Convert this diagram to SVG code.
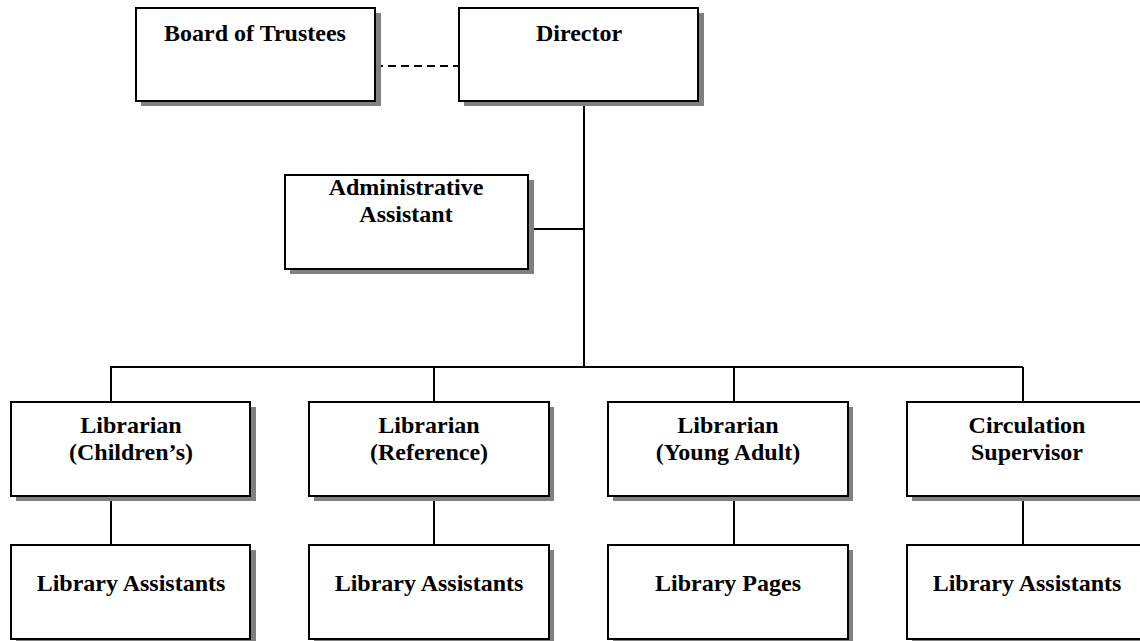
<svg xmlns="http://www.w3.org/2000/svg" width="1140" height="641" viewBox="0 0 1140 641">
<style>
.sh{fill:#808080}
.bx{fill:#fff;stroke:#000;stroke-width:2}
.t{font-family:"Liberation Serif","Times New Roman",serif;font-weight:bold;font-size:24px;text-anchor:middle;fill:#000}
.c{stroke:#000;stroke-width:2;fill:none}
</style>
<rect width="1140" height="641" fill="#fff"/>
<g id="connectors">
<line class="c" x1="375" y1="66" x2="459" y2="66" stroke-dasharray="8,5"/>
<line class="c" x1="584" y1="101" x2="584" y2="368"/>
<line class="c" x1="528" y1="229" x2="584" y2="229"/>
<line class="c" x1="110" y1="367" x2="1023" y2="367"/>
<line class="c" x1="111" y1="367" x2="111" y2="402"/>
<line class="c" x1="434" y1="367" x2="434" y2="402"/>
<line class="c" x1="734" y1="367" x2="734" y2="402"/>
<line class="c" x1="1023" y1="367" x2="1023" y2="402"/>
<line class="c" x1="111" y1="496" x2="111" y2="545"/>
<line class="c" x1="434" y1="496" x2="434" y2="545"/>
<line class="c" x1="734" y1="496" x2="734" y2="545"/>
<line class="c" x1="1023" y1="496" x2="1023" y2="545"/>
</g>
<g id="board">
<rect class="sh" x="141" y="13" width="240" height="93"/>
<rect class="bx" x="136" y="8" width="239" height="93"/>
<text class="t" x="255" y="41">Board of Trustees</text>
</g>
<g id="director">
<rect class="sh" x="464" y="13" width="240" height="93"/>
<rect class="bx" x="459" y="8" width="239" height="93"/>
<text class="t" x="579" y="41">Director</text>
</g>
<g id="admin">
<rect class="sh" x="290" y="180" width="244" height="94"/>
<rect class="bx" x="285" y="175" width="243" height="94"/>
<text class="t" x="406" y="195"><tspan x="406">Administrative</tspan><tspan x="406" dy="27">Assistant</tspan></text>
</g>
<g id="lib-children">
<rect class="sh" x="16" y="407" width="240" height="94"/>
<rect class="bx" x="11" y="402" width="239" height="94"/>
<text class="t" x="131" y="433"><tspan x="131">Librarian</tspan><tspan x="131" dy="27">(Children’s)</tspan></text>
</g>
<g id="lib-reference">
<rect class="sh" x="314" y="407" width="240" height="94"/>
<rect class="bx" x="309" y="402" width="240" height="94"/>
<text class="t" x="429" y="433"><tspan x="429">Librarian</tspan><tspan x="429" dy="27">(Reference)</tspan></text>
</g>
<g id="lib-youngadult">
<rect class="sh" x="613" y="407" width="240" height="94"/>
<rect class="bx" x="608" y="402" width="240" height="94"/>
<text class="t" x="728" y="433"><tspan x="728">Librarian</tspan><tspan x="728" dy="27">(Young Adult)</tspan></text>
</g>
<g id="circulation">
<rect class="sh" x="912" y="407" width="240" height="94"/>
<rect class="bx" x="907" y="402" width="240" height="94"/>
<text class="t" x="1027" y="433"><tspan x="1027">Circulation</tspan><tspan x="1027" dy="27">Supervisor</tspan></text>
</g>
<g id="assist-children">
<rect class="sh" x="16" y="550" width="240" height="94"/>
<rect class="bx" x="11" y="545" width="239" height="94"/>
<text class="t" x="131" y="591">Library Assistants</text>
</g>
<g id="assist-reference">
<rect class="sh" x="314" y="550" width="240" height="94"/>
<rect class="bx" x="309" y="545" width="240" height="94"/>
<text class="t" x="429" y="591">Library Assistants</text>
</g>
<g id="pages">
<rect class="sh" x="613" y="550" width="240" height="94"/>
<rect class="bx" x="608" y="545" width="240" height="94"/>
<text class="t" x="728" y="591">Library Pages</text>
</g>
<g id="assist-circulation">
<rect class="sh" x="912" y="550" width="240" height="94"/>
<rect class="bx" x="907" y="545" width="240" height="94"/>
<text class="t" x="1027" y="591">Library Assistants</text>
</g>
</svg>
